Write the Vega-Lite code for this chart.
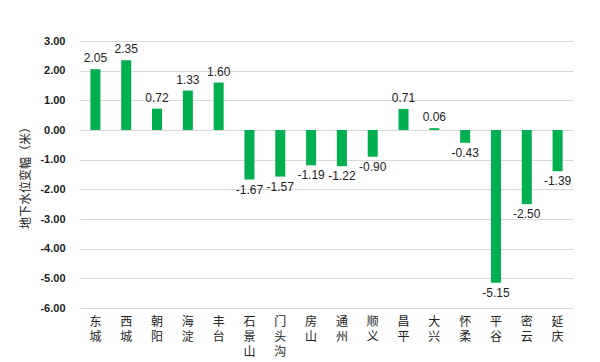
{
  "$schema": "https://vega.github.io/schema/vega-lite/v6.json",
  "autosize": {"type": "none"},
  "width": 493,
  "height": 267,
  "padding": {"left": 80, "top": 41, "right": 27, "bottom": 54},
  "background": "white",
  "config": {
    "view": {"stroke": null},
    "locale": {"number": {"decimal": ".", "thousands": ",", "grouping": [3], "currency": ["", ""], "minus": "-"}}
  },
  "data": {
    "values": [
      {"d": "东城", "v": 2.05},
      {"d": "西城", "v": 2.35},
      {"d": "朝阳", "v": 0.72},
      {"d": "海淀", "v": 1.33},
      {"d": "丰台", "v": 1.60},
      {"d": "石景山", "v": -1.67},
      {"d": "门头沟", "v": -1.57},
      {"d": "房山", "v": -1.19},
      {"d": "通州", "v": -1.22},
      {"d": "顺义", "v": -0.90},
      {"d": "昌平", "v": 0.71},
      {"d": "大兴", "v": 0.06},
      {"d": "怀柔", "v": -0.43},
      {"d": "平谷", "v": -5.15},
      {"d": "密云", "v": -2.50},
      {"d": "延庆", "v": -1.39}
    ]
  },
  "encoding": {
    "x": {
      "field": "d", "type": "nominal", "sort": null, "title": null,
      "scale": {"paddingInner": 0.675, "paddingOuter": 0.3375},
      "axis": {
        "domain": false, "ticks": false, "labelAngle": 0,
        "labelExpr": "split(datum.label, '')",
        "labelFont": "Noto Sans CJK SC", "labelFontSize": 12, "labelColor": "#222",
        "labelLineHeight": 15, "labelPadding": 8, "labelBaseline": "top"
      }
    },
    "y": {
      "field": "v", "type": "quantitative",
      "scale": {"domain": [-6, 3], "nice": false, "zero": false},
      "title": "地下水位变幅（米）",
      "axis": {
        "values": [-6, -5, -4, -3, -2, -1, 0, 1, 2, 3],
        "format": ".2f",
        "domain": false, "ticks": false,
        "labelFont": "Liberation Sans", "labelFontSize": 11, "labelFontWeight": "bold", "labelColor": "#222",
        "labelPadding": 15,
        "gridColor": "#d9d9d9", "gridWidth": 1,
        "titleFont": "Noto Sans CJK SC", "titleFontSize": 12, "titleFontWeight": "normal", "titleColor": "#222",
        "titlePadding": 7
      }
    }
  },
  "layer": [
    {"mark": {"type": "bar", "color": "#00B050"}},
    {
      "transform": [{"filter": "datum.v >= 0"}],
      "mark": {"type": "text", "baseline": "bottom", "dy": -4, "font": "Liberation Sans", "fontSize": 12, "color": "#222"},
      "encoding": {"text": {"field": "v", "type": "quantitative", "format": ".2f"}}
    },
    {
      "transform": [{"filter": "datum.v < 0"}],
      "mark": {"type": "text", "baseline": "top", "dy": 5, "font": "Liberation Sans", "fontSize": 12, "color": "#222"},
      "encoding": {"text": {"field": "v", "type": "quantitative", "format": ".2f"}}
    }
  ]
}
